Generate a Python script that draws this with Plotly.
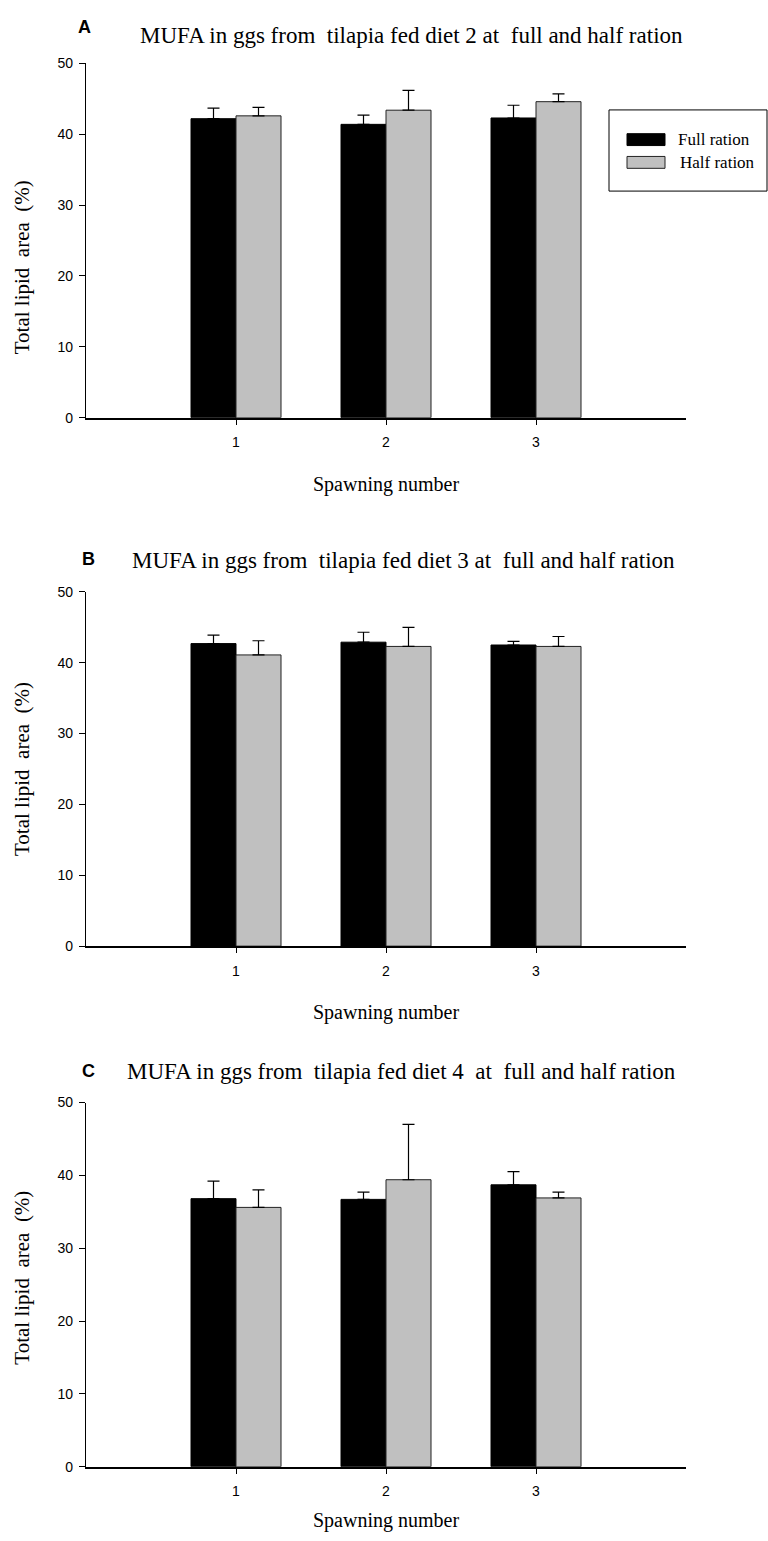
import plotly.graph_objects as go

W, H = 768, 1541

# ---------------- data ----------------
spawning = [1, 2, 3]
tick_labels = ["1", "2", "3"]
series_names = ["Full ration", "Half ration"]

a_full = [42.2, 41.4, 42.3]
a_full_err = [1.5, 1.3, 1.8]
a_half = [42.6, 43.4, 44.6]
a_half_err = [1.2, 2.8, 1.1]

b_full = [42.7, 42.9, 42.5]
b_full_err = [1.2, 1.4, 0.5]
b_half = [41.1, 42.3, 42.3]
b_half_err = [2.0, 2.7, 1.4]

c_full = [36.8, 36.7, 38.7]
c_full_err = [2.4, 1.0, 1.8]
c_half = [35.6, 39.4, 36.9]
c_half_err = [2.4, 7.6, 0.8]

panel_letters = ["A", "B", "C"]
panel_titles = [
    "MUFA in ggs from  tilapia fed diet 2 at  full and half ration",
    "MUFA in ggs from  tilapia fed diet 3 at  full and half ration",
    "MUFA in ggs from  tilapia fed diet 4  at  full and half ration",
]
y_title = "Total lipid  area  (%)"
x_title = "Spawning number"
y_ticks = [0, 10, 20, 30, 40, 50]

panels = [
    (a_full, a_full_err, a_half, a_half_err),
    (b_full, b_full_err, b_half, b_half_err),
    (c_full, c_full_err, c_half, c_half_err),
]

# ---------------- layout geometry (pixels) ----------------
def px(x):
    return x / W


def py(y):
    return 1 - y / H


plot_x0, plot_x1 = 86, 686
plot_y = [(56, 414), (590, 948), (1106, 1474)]
letter_pos = [(84, 19), (88, 557), (88, 1074)]
title_pos = [(138, 28), (130, 558), (125, 1075)]
ytitle_center = [262, 769, 1283]
xtitle_y = [482, 1015, 1528]

fig = go.Figure()
layout = dict(
    width=W,
    height=H,
    margin=dict(l=0, r=0, t=0, b=0),
    paper_bgcolor="white",
    plot_bgcolor="white",
    barmode="group",
    bargap=0.4,
    bargroupgap=0,
    showlegend=False,
    font=dict(family="Liberation Sans", color="black"),
)

annotations = []
shapes = []
for i, (full, full_err, half, half_err) in enumerate(panels):
    sfx = "" if i == 0 else str(i + 1)
    xa, ya = "x" + sfx, "y" + sfx
    fig.add_trace(go.Bar(
        x=spawning, y=full, name=series_names[0], xaxis=xa, yaxis=ya,
        marker=dict(color="black", line=dict(color="black", width=1)),
        error_y=dict(type="data", symmetric=False, array=full_err,
                     arrayminus=[0] * len(full), color="black",
                     thickness=1.2, width=6),
    ))
    fig.add_trace(go.Bar(
        x=spawning, y=half, name=series_names[1], xaxis=xa, yaxis=ya,
        marker=dict(color="#c0c0c0", line=dict(color="#222222", width=1)),
        error_y=dict(type="data", symmetric=False, array=half_err,
                     arrayminus=[0] * len(half), color="black",
                     thickness=1.2, width=6),
    ))
    y0, y1 = plot_y[i]
    layout["xaxis" + sfx] = dict(
        domain=[px(plot_x0), px(plot_x1)], anchor=ya, range=[0, 4],
        tickvals=spawning, ticktext=tick_labels, ticks="outside",
        ticklen=5, tickwidth=1, tickcolor="black", showline=True,
        linecolor="black", linewidth=1.8, showgrid=False, zeroline=False,
        tickfont=dict(family="Liberation Sans", size=14, color="black"),
        ticklabelstandoff=6, fixedrange=True,
    )
    layout["yaxis" + sfx] = dict(
        domain=[py(y1), py(y0)], anchor=xa, range=[0, 50],
        tickvals=y_ticks, ticks="outside", ticklen=6, tickwidth=1,
        tickcolor="black", showline=True, linecolor="black", linewidth=1.2,
        showgrid=False, zeroline=False,
        tickfont=dict(family="Liberation Sans", size=14, color="black"),
        ticklabelstandoff=3, fixedrange=True,
    )
    lx, ly = letter_pos[i]
    annotations.append(dict(
        text="<b>%s</b>" % panel_letters[i], x=px(lx), y=py(ly),
        xref="paper", yref="paper", xanchor="center", yanchor="middle",
        showarrow=False,
        font=dict(family="Liberation Sans", size=18, color="black"),
    ))
    tx, ty = title_pos[i]
    annotations.append(dict(
        text=panel_titles[i].replace("  ", "&nbsp; "), x=px(tx), y=py(ty),
        xref="paper", yref="paper", xanchor="left", yanchor="middle",
        showarrow=False,
        font=dict(family="Liberation Serif", size=23, color="black"),
    ))
    annotations.append(dict(
        text=y_title.replace("  ", "&nbsp; "), x=px(22), y=py(ytitle_center[i]),
        xref="paper", yref="paper", xanchor="center", yanchor="middle",
        textangle=-90, showarrow=False,
        font=dict(family="Liberation Serif", size=21, color="black"),
    ))
    annotations.append(dict(
        text=x_title, x=px((plot_x0 + plot_x1) / 2), y=py(xtitle_y[i]),
        xref="paper", yref="paper", xanchor="center", yanchor="middle",
        showarrow=False,
        font=dict(family="Liberation Serif", size=20, color="black"),
    ))

# ---------------- legend (panel A) ----------------
box = (609, 103, 767, 185)
shapes.append(dict(type="rect", xref="paper", yref="paper",
                   x0=px(box[0]), x1=px(box[2]), y0=py(box[3]), y1=py(box[1]),
                   line=dict(color="black", width=1), fillcolor="white"))
swatches = [((627, 127, 665, 139), "black", "black"),
            ((627, 150, 665, 162), "#c0c0c0", "#222222")]
for (sx0, sy0, sx1, sy1), fc, lc in swatches:
    shapes.append(dict(type="rect", xref="paper", yref="paper",
                       x0=px(sx0), x1=px(sx1), y0=py(sy1), y1=py(sy0),
                       line=dict(color=lc, width=1), fillcolor=fc))
legend_text_pos = [(676, 133), (678, 156)]
for name, (lx, ly) in zip(series_names, legend_text_pos):
    annotations.append(dict(
        text=name, x=px(lx), y=py(ly), xref="paper", yref="paper",
        xanchor="left", yanchor="middle", showarrow=False,
        font=dict(family="Liberation Serif", size=17, color="black"),
    ))

layout["annotations"] = annotations
layout["shapes"] = shapes
fig.update_layout(**layout)
fig.write_html("out.html")
